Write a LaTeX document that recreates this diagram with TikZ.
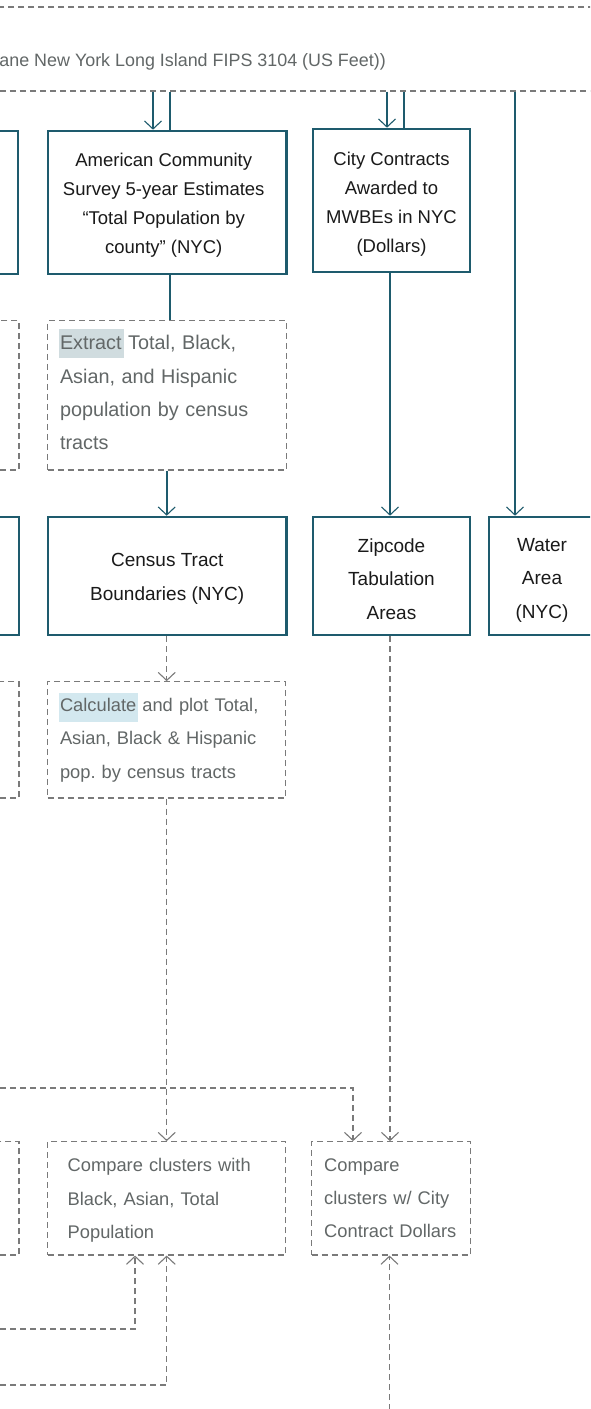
\documentclass[tikz,border=0pt]{standalone}
\usepackage{fontspec}
\setmainfont{Liberation Sans}
\usetikzlibrary{arrows.meta,calc}
\frenchspacing
\definecolor{tealline}{HTML}{1E5B6D}
\definecolor{dgrey}{HTML}{7A7A7A}
\definecolor{txtgrey}{HTML}{626767}
\definecolor{txtblack}{HTML}{1A1A1A}
\definecolor{hlA}{HTML}{D0DCDF}
\definecolor{hlB}{HTML}{D3E8EF}
% \hlword{colour}{depth}{total height}{word}
\newcommand\hlword[4]{\kern-1pt{\setlength{\fboxsep}{0pt}\colorbox{#1}{\kern1pt\rule[-#2]{0pt}{#3}#4\kern2pt}}\kern-2pt\relax}
\newcommand\fRowA{\fontsize{18.5}{29}\selectfont}
\newcommand\fStd{\fontsize{18.3}{33.3}\selectfont}
\newcommand\fRowC{\fontsize{19}{33.3}\selectfont}
\newcommand\fExt{\fontsize{19.8}{33.3}\selectfont}
\begin{document}
\begin{tikzpicture}[x=1pt,y=-1pt,
  solidbox/.style={draw=tealline, line width=2.6pt, align=center, inner sep=0pt, text=txtblack, fill=white},
  dbox/.style={draw=dgrey, line width=1.1pt, dash pattern=on 6pt off 4pt, inner sep=0pt, text=txtgrey, align=left},
  conn/.style={draw=tealline, line width=1.8pt},
  dconn/.style={draw=dgrey, line width=1.1pt, dash pattern=on 6pt off 4pt},
  arrtip/.style={-{Straight Barb[length=8pt,width=17pt,line width=1.1pt]}}
]
\useasboundingbox (0,0) rectangle (590,1409);
\fill[white] (0,0) rectangle (590,1409);
\clip (0,0) rectangle (590,1409);

% top dashed box (coordinate system)
\node[dbox, minimum width=1200pt, minimum height=84pt] (crs) at (300,49) {};
\node[anchor=base east, text=txtgrey, font=\fontsize{17.9}{20}\selectfont, inner sep=0pt] (crstext) at (386,66.5) {ane New York Long Island FIPS 3104 (US Feet))};

% row 1
\node[solidbox, minimum width=118pt, minimum height=143pt] (L1) at (-41,202.5) {};
\node[solidbox, minimum width=238.5pt, minimum height=143pt, font=\fRowA] (acs) at (167.25,202.5) {\rule{0pt}{19.5pt}American Community\kern7pt\\Survey 5-year Estimates\kern7pt\\“Total Population by\kern7pt\\county” (NYC)\kern7pt};
\node[solidbox, minimum width=157pt, minimum height=143pt, font=\fRowA] (city) at (391.5,200.5) {\rule{0pt}{20.5pt}City Contracts\\Awarded to\\MWBEs in NYC\\(Dollars)};

% row 2
\node[dbox, minimum width=119pt, minimum height=149.3pt] (L2) at (-40.5,395.35) {};
\node[dbox, minimum width=238.8pt, minimum height=149.3pt, text width=214.2pt, font=\fExt] (extract) at (167.1,395.35) {\hlword{hlA}{0.42em}{1.47em}{Extract} Total, Black,\\Asian, and Hispanic\\population by census\\tracts\rule[-12pt]{0pt}{0pt}};

% row 3
\node[solidbox, minimum width=119pt, minimum height=118pt] (L3) at (-40.5,576) {};
\node[solidbox, minimum width=238.5pt, minimum height=118pt, font=\fRowC] (census) at (167.25,576) {\rule{0pt}{19pt}Census Tract\\Boundaries (NYC)};
\node[solidbox, minimum width=157pt, minimum height=118pt, font=\fRowC] (zip) at (391.5,576) {\rule{0pt}{20pt}Zipcode\\Tabulation\\Areas};
\node[solidbox, minimum width=106pt, minimum height=118pt, font=\fRowC] (water) at (542,576) {\rule{0pt}{21.5pt}Water\\Area\\(NYC)};

% row 4
\node[dbox, minimum width=119pt, minimum height=116.3pt] (L4) at (-40.5,739.85) {};
\node[dbox, minimum width=238pt, minimum height=116.3pt, text width=213.4pt, font=\fStd] (calc) at (166.7,739.85) {\hlword{hlB}{0.56em}{1.59em}{Calculate} and plot Total,\\Asian, Black \& Hispanic\\pop. by census tracts\rule[-9pt]{0pt}{0pt}};

% row 5
\node[dbox, minimum width=119pt, minimum height=113.3pt] (L5) at (-40.5,1198.35) {};
\node[dbox, minimum width=238pt, minimum height=113.3pt, text width=198pt, font=\fStd] (cmppop) at (166.7,1198.35) {\rule{0pt}{17.5pt}Compare clusters with\\Black, Asian, Total\\Population};
\node[dbox, minimum width=159pt, minimum height=113.3pt, text width=134pt, font=\fStd] (cmpcity) at (391.2,1198.35) {Compare\\clusters w/ City\\Contract Dollars};

% helper coordinates
\coordinate (xa) at (153,0);
\coordinate (xb) at (170,0);
\coordinate (xc) at (387,0);
\coordinate (xd) at (404,0);
\coordinate (xe) at (515,0);
\coordinate (xf) at (166.7,0);
\coordinate (xg) at (390,0);
\coordinate (xh) at (353,0);
\coordinate (xi) at (135,0);
\coordinate (lA) at (-20,1088);
\coordinate (lB) at (-20,1329);
\coordinate (lC) at (-20,1385);
\coordinate (bZ) at (389.5,1440);

% connectors
\draw[conn,arrtip] (xa |- crs.south) -- (xa |- acs.north);
\draw[conn] (xb |- acs.north) -- (xb |- crs.south);
\draw[conn,arrtip] (xc |- crs.south) -- (xc |- city.north);
\draw[conn] (xd |- city.north) -- (xd |- crs.south);
\draw[conn,arrtip] (xe |- crs.south) -- (xe |- water.north);
\draw[conn] (xb |- acs.south) -- (xb |- extract.north);
\draw[conn,arrtip] (xf |- extract.south) -- (xf |- census.north);
\draw[conn,arrtip] (xg |- city.south) -- (xg |- zip.north);
\draw[dconn,arrtip] (xf |- census.south) -- (xf |- calc.north);
\draw[dconn,arrtip] (xf |- calc.south) -- (xf |- cmppop.north);
\draw[dconn,arrtip] (xg |- zip.south) -- (xg |- cmpcity.north);
\draw[dconn,arrtip] (lA) -| (xh |- cmpcity.north);
\draw[dconn,arrtip] (lB) -| (xi |- cmppop.south);
\draw[dconn,arrtip] (lC) -| (xf |- cmppop.south);
\draw[dconn,arrtip] (bZ) -- (bZ |- cmpcity.south);
\end{tikzpicture}
\end{document}
